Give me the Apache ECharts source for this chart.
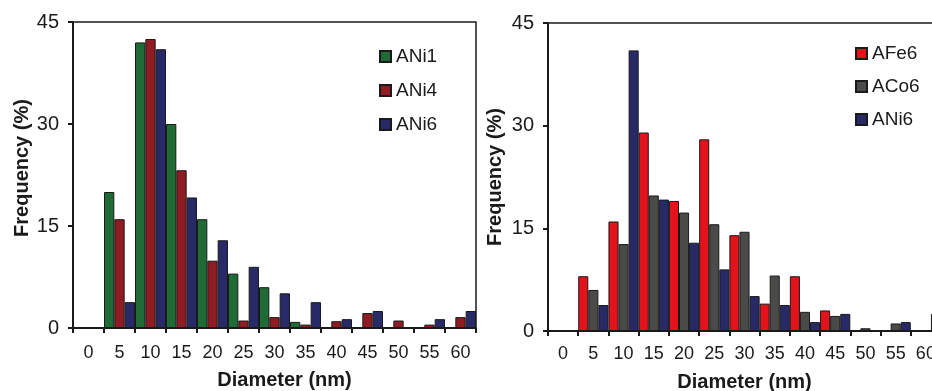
<!DOCTYPE html>
<html>
<head>
<meta charset="utf-8">
<script src="https://cdn.jsdelivr.net/npm/echarts@6/dist/echarts.min.js"></script>
<style>
html,body{margin:0;padding:0;background:#fff;}
#c{width:932px;height:391px;}
</style>
</head>
<body>
<div id="c"></div>
<script>
// Categories (nm)
const categories = ['0','5','10','15','20','25','30','35','40','45','50','55','60'];
const yTicks = [0, 15, 30, 45];

// Left panel series (Frequency %)
const ANi1 = [0, 20, 42, 30, 16, 8, 6, 0.9, 0, 0, 0, 0, 0];
const ANi4 = [0, 16, 42.5, 23.2, 9.9, 1.1, 1.6, 0.5, 1.0, 2.2, 1.1, 0.5, 1.6];
const ANi6 = [0, 3.8, 41, 19.2, 12.9, 9.0, 5.1, 3.8, 1.3, 2.5, 0, 1.3, 2.5];

// Right panel series (Frequency %)
const AFe6 = [0, 8, 16, 29, 19, 28, 14, 4, 8, 3, 0, 0, 0];
const ACo6 = [0, 6, 12.7, 19.8, 17.3, 15.6, 14.5, 8.1, 2.8, 2.2, 0.4, 1.1, 0];

const colors = {
  ANi1: '#1f6a35', ANi4: '#8f1c22', ANi6: '#272a67',
  AFe6: '#e3121b', ACo6: '#4a4a48'
};

const txt = '#1a1a1a';
const fontFam = '"Liberation Sans", Arial, sans-serif';

function xAxis(gridIndex, padLeft, gap, margin) {
  return {
    type: 'category', gridIndex: gridIndex, data: categories,
    boundaryGap: true,
    name: 'Diameter (nm)', nameLocation: 'middle', nameGap: gap,
    nameTextStyle: { fontSize: 20, fontWeight: 'bold', color: txt, fontFamily: fontFam, padding: [0, 0, 0, padLeft] },
    axisLine: { lineStyle: { color: txt, width: 2 } },
    axisTick: { show: true, alignWithLabel: false, interval: 0, length: 5, lineStyle: { color: txt, width: 2 } },
    axisLabel: { interval: 0, fontSize: 18, color: txt, fontFamily: fontFam, margin: margin, hideOverlap: false },
    splitLine: { show: false }
  };
}
function yAxis(gridIndex, gap, padLeft) {
  return {
    type: 'value', gridIndex: gridIndex, min: yTicks[0], max: yTicks[yTicks.length - 1], interval: 15,
    name: 'Frequency (%)', nameLocation: 'middle', nameGap: gap,
    nameTextStyle: { fontSize: 20, fontWeight: 'bold', color: txt, fontFamily: fontFam, padding: [0, 0, 0, padLeft] },
    axisLine: { show: true, lineStyle: { color: txt, width: 2 } },
    axisTick: { show: true, length: 5, lineStyle: { color: txt, width: 2 } },
    axisLabel: { fontSize: 20, color: txt, fontFamily: fontFam, margin: 14 },
    splitLine: { show: false }
  };
}
function bar(name, data, xi, yi) {
  return {
    type: 'bar', name: name, data: data, xAxisIndex: xi, yAxisIndex: yi,
    barGap: '0%', barCategoryGap: '0%',
    itemStyle: { color: colors[name], borderColor: '#1a1a1a', borderWidth: 1 },
    emphasis: { disabled: true }
  };
}

const chart = echarts.init(document.getElementById('c'), null, { renderer: 'canvas' });
chart.setOption({
  animation: false,
  backgroundColor: '#fff',
  grid: [
    { left: 73, top: 22, width: 403, height: 306, show: true, borderColor: txt, borderWidth: 1.5, containLabel: false, outerBoundsMode: 'none' },
    { left: 548, top: 23, width: 393, height: 308, show: true, borderColor: txt, borderWidth: 1.5, containLabel: false, outerBoundsMode: 'none' }
  ],
  legend: [
    { data: ['ANi1', 'ANi4', 'ANi6'], orient: 'vertical', left: 379, top: 47, padding: 0, itemWidth: 11, itemHeight: 11, itemGap: 15,
      icon: 'rect', textStyle: { fontSize: 19, color: txt, fontFamily: fontFam }, selectedMode: false },
    { data: ['AFe6', 'ACo6', 'ANi6 '], orient: 'vertical', left: 855, top: 44, padding: 0, itemWidth: 11, itemHeight: 11, itemGap: 14,
      icon: 'rect', textStyle: { fontSize: 19, color: txt, fontFamily: fontFam }, selectedMode: false,
      formatter: function (n) { return n.trim(); } }
  ],
  xAxis: [xAxis(0, 20, 42, 16), xAxis(1, 0, 41, 14)],
  yAxis: [yAxis(0, 41, 14), yAxis(1, 43, 0)],
  series: [
    bar('ANi1', ANi1, 0, 0),
    bar('ANi4', ANi4, 0, 0),
    bar('ANi6', ANi6, 0, 0),
    bar('AFe6', AFe6, 1, 1),
    bar('ACo6', ACo6, 1, 1),
    Object.assign(bar('ANi6', ANi6, 1, 1), { name: 'ANi6 ', itemStyle: { color: colors.ANi6, borderColor: '#1a1a1a', borderWidth: 1 } })
  ]
});
</script>
</body>
</html>
